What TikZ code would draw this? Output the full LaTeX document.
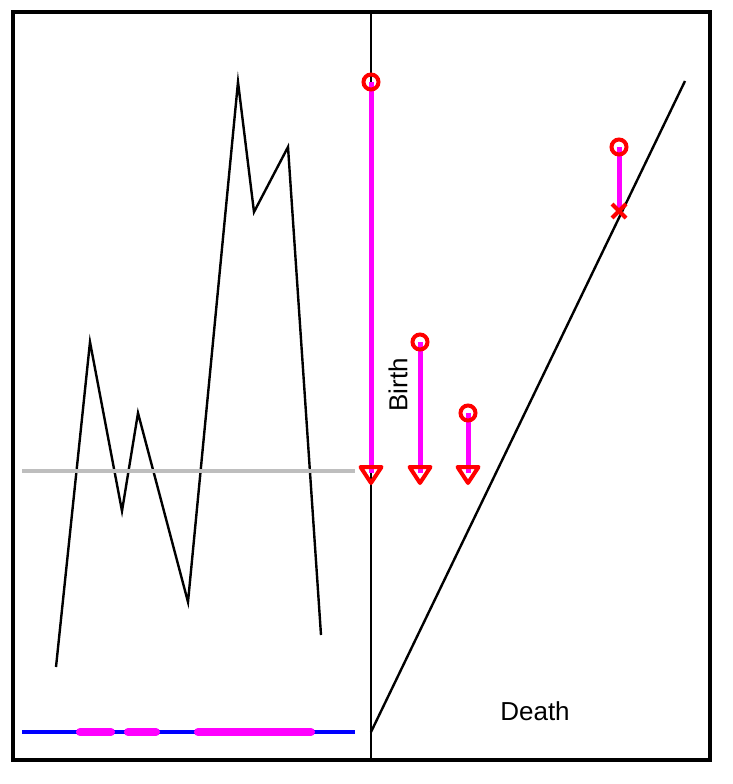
\documentclass[tikz,border=0pt]{standalone}
\usepackage{fontspec}
\setmainfont{Liberation Sans}
\definecolor{pmag}{RGB}{255,0,255}
\definecolor{pred}{RGB}{255,0,0}
\definecolor{pblue}{RGB}{0,0,255}
\definecolor{pgray}{RGB}{190,190,190}
\begin{document}
\begin{tikzpicture}[x=1pt,y=-1pt,
  frame/.style={line width=3.5pt},
  curve/.style={line width=2.4pt,line join=miter},
  bar/.style={pmag,line width=5pt},
  birthmk/.style={pred,line width=4pt},
  lbl/.style={font=\fontsize{26}{30}\selectfont,inner sep=0pt}]
\useasboundingbox (0,0) rectangle (732,784);
% frame and divider
\draw[frame] (13,12) rectangle (710,760);
\draw[line width=2.5pt] (371,12) -- (371,760);
% left: function
\draw[curve] (56,667) -- (90,342) -- (122,511) -- (138,413) -- (188,602) -- (238,82) -- (254,212) -- (288,147) -- (321,635);
\draw[pgray,line width=4pt] (22,471) -- (355,471);
\draw[pblue,line width=4.5pt] (22,732) -- (355,732);
\draw[pmag,line width=8pt,line cap=round] (80,732) -- (111,732);
\draw[pmag,line width=8pt,line cap=round] (128,732) -- (156,732);
\draw[pmag,line width=8pt,line cap=round] (198,732) -- (311,732);
% right: diagonal
\draw[curve] (371,732) -- (685,81);
% bars
\draw[bar] (371,82) -- (371,473);
\draw[bar] (420,342) -- (420,473);
\draw[bar] (468,413) -- (468,473);
\draw[bar] (619,147) -- (619,211);
% birth circles
\foreach \x/\y in {371/82,420/342,468/413,619/147}
  \draw[birthmk] (\x,\y) circle (7.5);
% death triangles
\foreach \x in {371,420,468}
  \draw[birthmk,line join=round] (\x-10.5,467) -- (\x+10.5,467) -- (\x,483) -- cycle;
% cross
\draw[birthmk] (612,204) -- (626,218) (612,218) -- (626,204);
% labels
\node[lbl,rotate=90] (birth) at (398,385) {Birth};
\node[lbl] (death) at (535,711) {Death};
\end{tikzpicture}
\end{document}
